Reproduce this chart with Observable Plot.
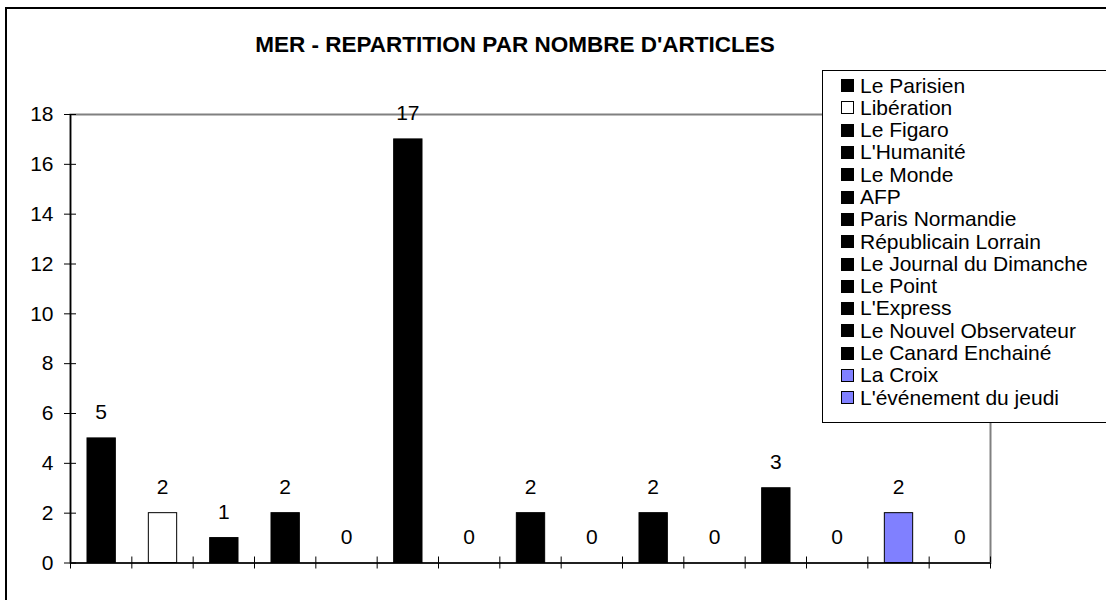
<!DOCTYPE html>
<html><head><meta charset="utf-8">
<script src="https://cdn.jsdelivr.net/npm/d3@7"></script>
<script src="https://cdn.jsdelivr.net/npm/@observablehq/plot@0.6"></script>
<style>
body{margin:0;background:#fff;}
#wrap{position:relative;width:1106px;height:600px;overflow:hidden;font-family:"Liberation Sans",Arial,sans-serif;color:#000;background:#fff;}
#frame{position:absolute;left:5px;top:7px;width:1200px;height:700px;border:2px solid #000;}
#chart{position:absolute;left:0;top:0;}
#title{position:absolute;left:0;top:34px;width:1030px;text-align:center;font-weight:bold;font-size:22.5px;line-height:22px;white-space:nowrap;}
#legend{position:absolute;left:822px;top:70px;width:320px;height:353px;box-sizing:border-box;border:1px solid #000;background:#fff;padding-top:3.5px;}
.item{height:22.3px;line-height:22.3px;font-size:21px;display:flex;align-items:center;white-space:nowrap;}
.sw{width:11px;height:11px;border:1px solid #000;margin-left:18px;margin-right:6px;flex:none;}
</style></head>
<body>
<div id="wrap">
  <div id="frame"></div>
  <div id="chart"></div>
  <div id="title"></div>
  <div id="legend"></div>
</div>
<script>
const chartTitle = "MER - REPARTITION PAR NOMBRE D'ARTICLES";
const series = ["Le Parisien", "Libération", "Le Figaro", "L'Humanité", "Le Monde", "AFP",
  "Paris Normandie", "Républicain Lorrain", "Le Journal du Dimanche", "Le Point", "L'Express",
  "Le Nouvel Observateur", "Le Canard Enchainé", "La Croix", "L'événement du jeudi"];
const counts = [5, 2, 1, 2, 0, 17, 0, 2, 0, 2, 0, 3, 0, 2, 0];
const yTicks = [0, 2, 4, 6, 8, 10, 12, 14, 16, 18];
const palette = ["#000000", "#ffffff", "#000000", "#000000", "#000000", "#000000", "#000000",
  "#000000", "#000000", "#000000", "#000000", "#000000", "#000000", "#8080ff", "#8080ff"];

const rows = series.map((s, i) => ({series: s, index: i, count: counts[i]}));
const xTicks = d3.range(0, series.length + 1);
const font = '"Liberation Sans", Arial, sans-serif';

const chart = Plot.plot({
  width: 1106, height: 600,
  marginLeft: 70, marginRight: 116, marginTop: 114, marginBottom: 37.5,
  style: {fontFamily: font, fontSize: "21px", color: "#000", background: "transparent", overflow: "visible"},
  x: {type: "linear", domain: [0, series.length], axis: null},
  y: {domain: [0, 18], axis: null},
  color: {type: "ordinal", domain: series, range: palette},
  marks: [
    Plot.frame({stroke: "#808080", strokeWidth: 2}),
    Plot.rectY(rows, {x1: "index", x2: d => d.index + 1, y: "count", fill: "series", stroke: "#000", strokeWidth: 1, insetLeft: 17, insetRight: 16}),
    Plot.ruleX([0], {stroke: "#000", strokeWidth: 1.5}),
    Plot.ruleY([0], {stroke: "#000", strokeWidth: 1.5}),
    Plot.axisY({ticks: yTicks, tickSize: 6, tickPadding: 11, fontSize: 21, label: null, stroke: "#000"}),
    Plot.axisY({ticks: yTicks, tickSize: -6, tickFormat: () => "", label: null, stroke: "#000"}),
    Plot.axisX({ticks: xTicks, tickSize: 6, tickFormat: () => "", label: null, stroke: "#000"}),
    Plot.axisX({ticks: xTicks, tickSize: -6, tickFormat: () => "", label: null, stroke: "#000"}),
    Plot.text(rows, {x: d => d.index + 0.5, y: "count", text: d => String(d.count), dy: -26, fontSize: 21, fill: "#000"})
  ]
});
document.getElementById("chart").appendChild(chart);
document.getElementById("title").textContent = chartTitle;

const legend = document.getElementById("legend");
series.forEach((s, i) => {
  const item = document.createElement("div");
  item.className = "item";
  const sw = document.createElement("span");
  sw.className = "sw";
  sw.style.background = palette[i];
  const label = document.createElement("span");
  label.textContent = s;
  item.appendChild(sw);
  item.appendChild(label);
  legend.appendChild(item);
});
</script>
</body></html>
